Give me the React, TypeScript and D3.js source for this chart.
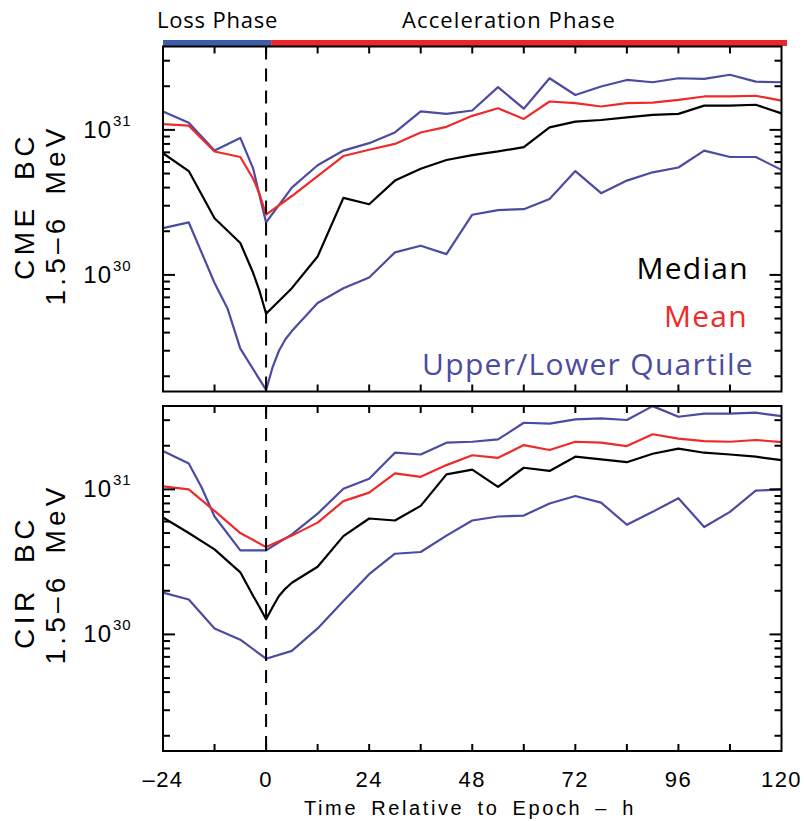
import React, { useEffect } from 'react';
import * as d3 from 'd3';

// ---------- data (band-crossing counts) ----------
const hours = [-24, -18, -12, -6, 0, 6, 12, 18, 24, 30, 36, 42, 48, 54, 60, 66, 72, 78, 84, 90, 96, 102, 108, 114, 120];
const tailHours = [6, 12, 18, 24, 30, 36, 42, 48, 54, 60, 66, 72, 78, 84, 90, 96, 102, 108, 114, 120];

// CME panel
const cmeNearHours = [-24, -18, -12, -6, -3, -1.5, 0, ...tailHours];
const cmeUpper = [13.4e30, 11.2e30, 7.2e30, 8.8e30, 5.4e30, 3.5e30, 2.3e30, 4.0e30, 5.7e30, 7.2e30, 8.1e30, 9.6e30, 13.4e30, 12.9e30, 13.6e30, 19.7e30, 14.0e30, 22.7e30, 17.4e30, 19.9e30, 22.1e30, 21.3e30, 22.7e30, 22.5e30, 24.0e30, 21.5e30, 21.3e30];
const cmeMean = [10.95e30, 10.7e30, 7.1e30, 6.5e30, 4.6e30, 3.6e30, 2.6e30, 3.5e30, 4.8e30, 6.6e30, 7.3e30, 8.0e30, 9.6e30, 10.5e30, 12.5e30, 14.1e30, 11.9e30, 15.7e30, 15.3e30, 14.5e30, 15.3e30, 15.4e30, 16.1e30, 17.0e30, 17.0e30, 17.2e30, 15.9e30];
const cmeMedian = [6.9e30, 5.2e30, 2.46e30, 1.66e30, 1.03e30, 0.77e30, 0.54e30, 0.81e30, 1.34e30, 3.4e30, 3.07e30, 4.47e30, 5.4e30, 6.2e30, 6.7e30, 7.1e30, 7.6e30, 10.4e30, 11.4e30, 11.7e30, 12.2e30, 12.7e30, 12.9e30, 14.7e30, 14.7e30, 14.9e30, 13.0e30];
const cmeLowerHours = [-24, -18, -12, -9, -6, 0, 1.5, 3, 4.5, ...tailHours];
const cmeLower = [2.1e30, 2.3e30, 0.88e30, 0.59e30, 0.31e30, 0.161e30, 0.23e30, 0.30e30, 0.36e30, 0.41e30, 0.64e30, 0.81e30, 0.96e30, 1.43e30, 1.59e30, 1.39e30, 2.6e30, 2.8e30, 2.84e30, 3.34e30, 5.2e30, 3.66e30, 4.47e30, 5.1e30, 5.5e30, 7.2e30, 6.5e30, 6.5e30, 5.3e30];

// CIR panel
const cirUpperHours = [-24, -18, -15, -12, -6, 0, ...tailHours];
const cirUpper = [18.4e30, 15.1e30, 10.3e30, 6.5e30, 3.8e30, 3.8e30, 4.9e30, 6.8e30, 10.1e30, 11.85e30, 17.9e30, 17.4e30, 21.0e30, 21.3e30, 22.1e30, 28.8e30, 28.4e30, 30.4e30, 30.9e30, 30.1e30, 37.5e30, 31.7e30, 33.3e30, 33.3e30, 33.8e30, 32.0e30];
const cirMean = [10.5e30, 10.0e30, 7.1e30, 5.0e30, 4.0e30, 4.8e30, 5.9e30, 8.3e30, 9.5e30, 12.9e30, 12.2e30, 14.7e30, 17.2e30, 16.5e30, 20.2e30, 18.7e30, 21.3e30, 21.0e30, 19.9e30, 24.0e30, 22.4e30, 21.5e30, 21.3e30, 21.9e30, 21.2e30];
const cirMedianHours = [-24, -18, -12, -6, -3, -1.5, 0, 1.5, 3, 4.5, ...tailHours];
const cirMedian = [6.4e30, 5.0e30, 3.86e30, 2.68e30, 1.84e30, 1.54e30, 1.27e30, 1.54e30, 1.84e30, 2.07e30, 2.27e30, 2.93e30, 4.76e30, 6.3e30, 6.1e30, 7.7e30, 12.7e30, 13.7e30, 10.4e30, 14.1e30, 13.4e30, 16.8e30, 16.1e30, 15.4e30, 17.6e30, 19.1e30, 17.9e30, 17.4e30, 16.8e30, 15.9e30];
const cirLower = [1.94e30, 1.74e30, 1.10e30, 0.92e30, 0.68e30, 0.77e30, 1.10e30, 1.70e30, 2.6e30, 3.6e30, 3.7e30, 4.8e30, 6.1e30, 6.5e30, 6.6e30, 8.0e30, 9.0e30, 8.1e30, 5.7e30, 7.0e30, 8.7e30, 5.5e30, 7.0e30, 9.8e30, 10.0e30];

const xTicks = [-24, 0, 24, 48, 72, 96, 120];
const xMinorTicks = [-12, 0, 12, 24, 36, 48, 60, 72, 84, 96, 108];
const yDecades = [30, 31];
const phaseLabels = ['Loss Phase', 'Acceleration Phase'];
const legendLabels = ['Median', 'Mean', 'Upper/Lower Quartile'];

// ---------- layout ----------
const W = 804;
const H = 821;
const X0 = 163;
const X1 = 781.5;
const PH = 345;
const TOPS = [46.5, 406];
const LOG_MIN = 29.196;
const LOG_MAX = 31.575;

const BLUE = '#4b4ba1';
const RED = '#ee2a2a';
const BAR_BLUE = '#3d5ca9';
const BAR_RED = '#e8262b';
const AXIS_FONT = 'Liberation Sans, Arial, sans-serif';
const LABEL_FONT = 'Open Sans, sans-serif';

const x = d3.scaleLinear().domain([-24, 120]).range([X0, X1]);

type S = { hrs: number[]; vals: number[]; color: string };

function Panel({ top, series, titleA, titleB, aCenter, bCenter }: { top: number; series: S[]; titleA: string; titleB: string; aCenter: number; bCenter: number }) {
  const y = d3.scaleLog().domain([Math.pow(10, LOG_MIN), Math.pow(10, LOG_MAX)]).range([top + PH, top]);
  const line = d3.line<[number, number]>().x((d) => x(d[0])).y((d) => y(d[1]));
  const yMinor: number[] = [];
  for (let e = 29; e <= 31; e++) {
    for (let m = 2; m <= 9; m++) {
      const v = m * Math.pow(10, e);
      const lv = Math.log10(v);
      if (lv > LOG_MIN && lv < LOG_MAX) yMinor.push(v);
    }
  }
  return (
    <g>
      {series.map((s, i) => (
        <path key={i} d={line(s.hrs.map((h, k) => [h, s.vals[k]] as [number, number])) || ''} fill="none" stroke={s.color} strokeWidth={2.2} strokeLinejoin="round" />
      ))}
      <line x1={x(0)} x2={x(0)} y1={top} y2={top + PH} stroke="#000" strokeWidth={2} strokeDasharray="13 9" />
      {xMinorTicks.map((t) => (
        <g key={t}>
          <line x1={x(t)} x2={x(t)} y1={top} y2={top + 7} stroke="#000" strokeWidth={2} />
          <line x1={x(t)} x2={x(t)} y1={top + PH} y2={top + PH - 7} stroke="#000" strokeWidth={2} />
        </g>
      ))}
      {yMinor.map((v, i) => (
        <g key={i}>
          <line x1={X0} x2={X0 + 7} y1={y(v)} y2={y(v)} stroke="#000" strokeWidth={2} />
          <line x1={X1} x2={X1 - 7} y1={y(v)} y2={y(v)} stroke="#000" strokeWidth={2} />
        </g>
      ))}
      {yDecades.map((e) => (
        <g key={e}>
          <line x1={X0} x2={X0 + 12} y1={y(Math.pow(10, e))} y2={y(Math.pow(10, e))} stroke="#000" strokeWidth={2} />
          <line x1={X1} x2={X1 - 12} y1={y(Math.pow(10, e))} y2={y(Math.pow(10, e))} stroke="#000" strokeWidth={2} />
          <text x={112} y={y(Math.pow(10, e)) + 8} textAnchor="end" fontFamily={AXIS_FONT} fontSize={24} letterSpacing={1}>10</text>
          <text x={113} y={y(Math.pow(10, e)) - 4} textAnchor="start" fontFamily={AXIS_FONT} fontSize={15} letterSpacing={1}>{String(e)}</text>
        </g>
      ))}
      <rect x={X0} y={top} width={X1 - X0} height={PH} fill="none" stroke="#000" strokeWidth={2} />
      <text transform={`translate(34,${aCenter}) rotate(-90)`} textAnchor="middle" fontFamily={AXIS_FONT} fontSize={28} letterSpacing={4.5} wordSpacing={12}>{titleA}</text>
      <text transform={`translate(65,${bCenter}) rotate(-90)`} textAnchor="middle" fontFamily={AXIS_FONT} fontSize={28} letterSpacing={4.2} wordSpacing={8}>{titleB}</text>
    </g>
  );
}

export default function App() {
  useEffect(() => {
    document.body.style.margin = '0';
  }, []);
  const cmeSeries: S[] = [
    { hrs: cmeNearHours, vals: cmeUpper, color: BLUE },
    { hrs: cmeLowerHours, vals: cmeLower, color: BLUE },
    { hrs: cmeNearHours, vals: cmeMean, color: RED },
    { hrs: cmeNearHours, vals: cmeMedian, color: '#000' },
  ];
  const cirSeries: S[] = [
    { hrs: cirUpperHours, vals: cirUpper, color: BLUE },
    { hrs: hours, vals: cirLower, color: BLUE },
    { hrs: hours, vals: cirMean, color: RED },
    { hrs: cirMedianHours, vals: cirMedian, color: '#000' },
  ];
  const epochX = x(0) + 5;
  return (
    <svg width={W} height={H} style={{ position: 'absolute', left: 0, top: 0, background: '#fff' }}>
      <rect x={0} y={0} width={W} height={H} fill="#fff" />
      <rect x={X0} y={40} width={epochX - X0} height={6} fill={BAR_BLUE} />
      <rect x={epochX} y={40} width={787 - epochX} height={6} fill={BAR_RED} />
      <text x={157} y={28} fontFamily={LABEL_FONT} fontSize={22} letterSpacing={0.8}>{phaseLabels[0]}</text>
      <text x={402} y={28} fontFamily={LABEL_FONT} fontSize={22} letterSpacing={1.1}>{phaseLabels[1]}</text>

      <Panel top={TOPS[0]} series={cmeSeries} titleA="CME BC" titleB="1.5–6 MeV" aCenter={206} bCenter={215} />
      <Panel top={TOPS[1]} series={cirSeries} titleA="CIR BC" titleB="1.5–6 MeV" aCenter={582} bCenter={574} />

      <text x={749} y={279} textAnchor="end" fontFamily={LABEL_FONT} fontSize={30} fill="#000" letterSpacing={1.3}>{legendLabels[0]}</text>
      <text x={748} y={327} textAnchor="end" fontFamily={LABEL_FONT} fontSize={30} fill={RED} letterSpacing={1.3}>{legendLabels[1]}</text>
      <text x={754} y={375} textAnchor="end" fontFamily={LABEL_FONT} fontSize={30} fill={BLUE} letterSpacing={1.3}>{legendLabels[2]}</text>

      {xTicks.map((t) => (
        <text key={t} x={x(t)} y={787} textAnchor="middle" fontFamily={AXIS_FONT} fontSize={22} letterSpacing={1.5}>{t < 0 ? `–${Math.abs(t)}` : String(t)}</text>
      ))}
      <text x={470} y={815} textAnchor="middle" fontFamily={AXIS_FONT} fontSize={20} letterSpacing={2.6} wordSpacing={5}>Time Relative to Epoch – h</text>
    </svg>
  );
}
